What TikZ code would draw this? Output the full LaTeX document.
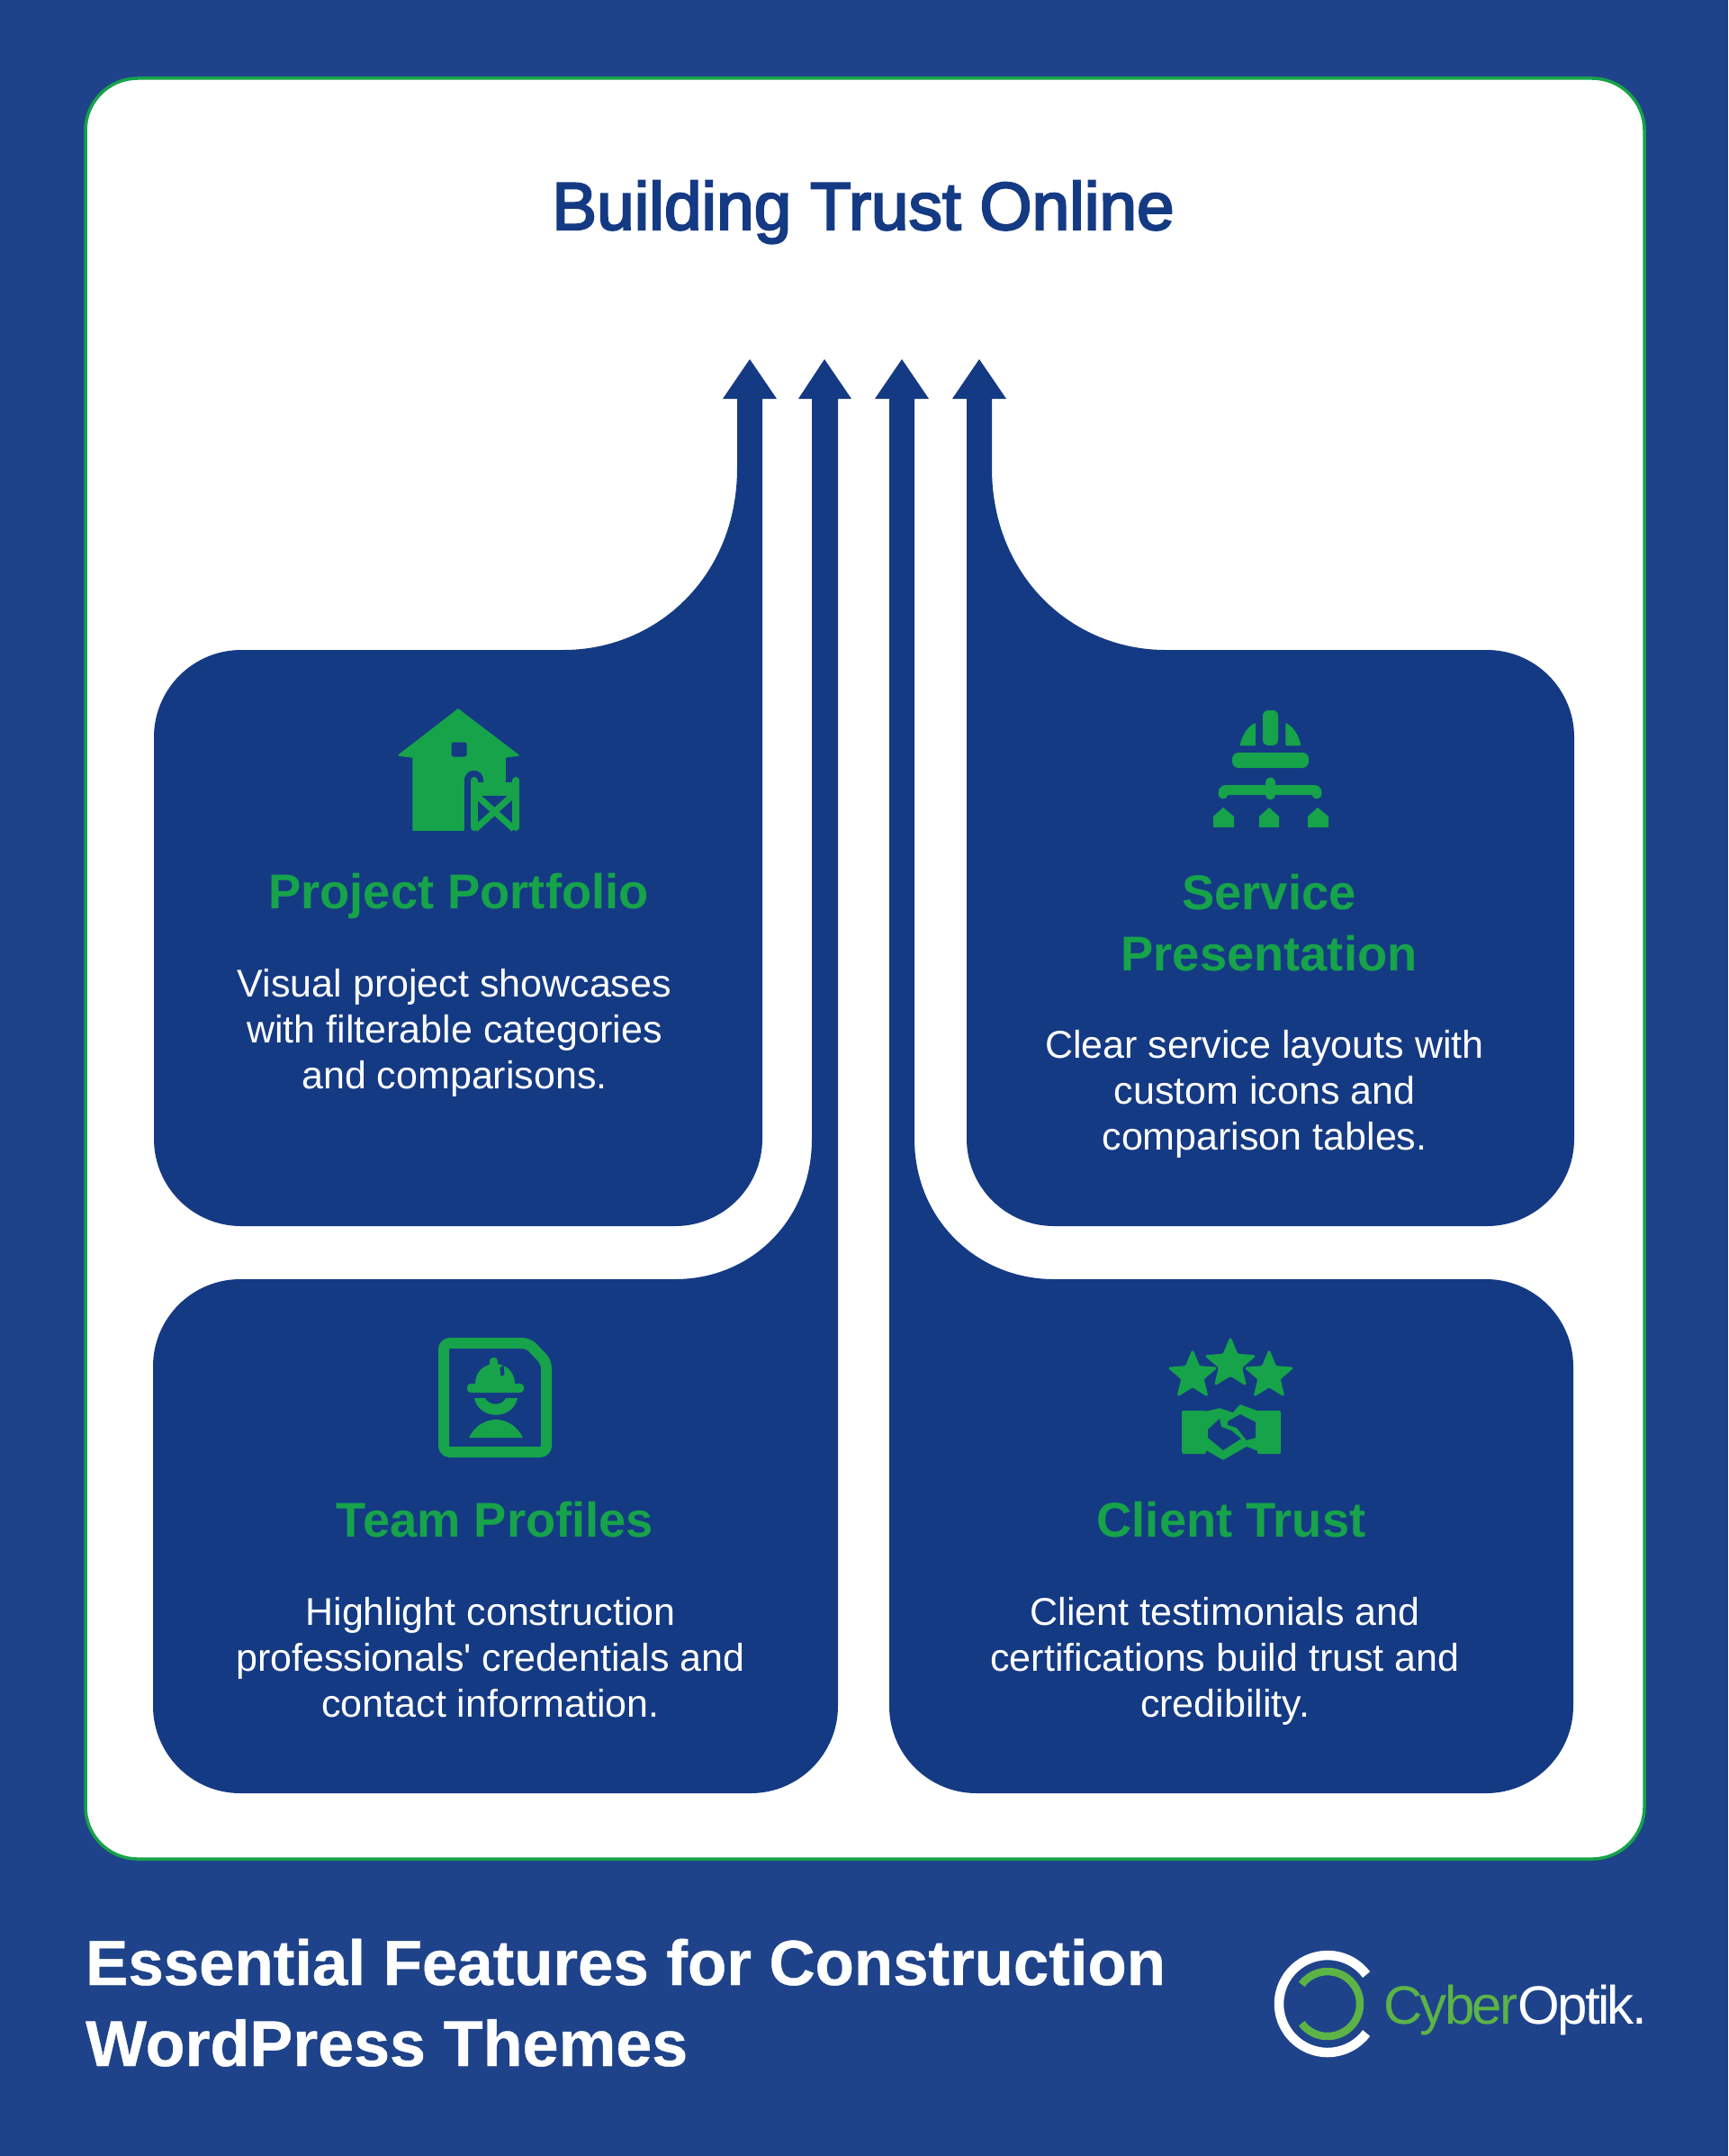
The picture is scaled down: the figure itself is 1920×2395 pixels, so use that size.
\documentclass[tikz,border=0pt]{standalone}
\usepackage{fontspec}
\setmainfont[Ligatures=TeXOff]{Liberation Sans}
\newfontfamily\logofont[LetterSpace=-4.5]{Liberation Sans}
\newfontfamily\titlefont[FakeBold=3]{Liberation Sans}
\newfontfamily\footfont[FakeBold=0.6,BoldFont={Liberation Sans Bold}]{Liberation Sans Bold}
\definecolor{pagebg}{HTML}{1F438A}
\definecolor{cardblue}{HTML}{153A84}
\definecolor{leaf}{HTML}{16A34A}
\definecolor{logogreen}{HTML}{5CB446}
\tikzset{
  x=1pt,y=-1pt,
  card/.style={fill=cardblue},
  icon/.style={fill=leaf,draw=leaf,line width=1.5pt,line join=round},
  cut/.style={fill=cardblue,draw=cardblue,line width=1pt,line join=round},
  heading/.style={inner sep=0pt,text=leaf,align=center,font=\fontsize{54.3}{68}\selectfont\bfseries},
  bodytext/.style={inner sep=0pt,text=white,align=center,font=\fontsize{43}{51}\selectfont},
  footer/.style={inner sep=0pt,text=white,font=\footfont}
}
\begin{document}
\begin{tikzpicture}
\useasboundingbox (0,0) rectangle (1920,2395);
\fill[pagebg] (0,0) rectangle (1920,2395);
\draw[leaf,line width=3.5pt,fill=white,rounded corners=58pt] (95,87) rectangle (1827,2065);

% top-left card with arrow
\fill[card] (626,722) .. controls (730,722) and (819,640) .. (819,520) -- (819,443) -- (803,443) -- (833,399) -- (863,443) -- (847,443) -- (847,1000)
  [rounded corners=97pt] -- (847,1362) -- (171,1362) -- (171,722) -- (400,722) [sharp corners] -- cycle;
% top-right card with arrow
\fill[card] (1295,722) .. controls (1191,722) and (1102,640) .. (1102,520) -- (1102,443) -- (1118,443) -- (1088,399) -- (1058,443) -- (1074,443) -- (1074,1000)
  [rounded corners=97pt] -- (1074,1362) -- (1749,1362) -- (1749,722) -- (1500,722) [sharp corners] -- cycle;
% bottom-left card with arrow
\fill[card] (750,1421) .. controls (835,1421) and (902,1355) .. (902,1265) -- (902,443) -- (887,443) -- (916,399) -- (946,443) -- (931,443) -- (931,1700)
  [rounded corners=97pt] -- (931,1992) -- (170,1992) -- (170,1421) -- (500,1421) [sharp corners] -- cycle;
% bottom-right card with arrow
\fill[card] (1171,1421) .. controls (1086,1421) and (1016,1355) .. (1016,1265) -- (1016,443) -- (1032,443) -- (1002,399) -- (972,443) -- (988,443) -- (988,1700)
  [rounded corners=97pt] -- (988,1992) -- (1748,1992) -- (1748,1421) -- (1400,1421) [sharp corners] -- cycle;

% title
\node[inner sep=0pt,text=cardblue,anchor=base,font=\fontsize{74.8}{80}\titlefont] (title) at (959,255) {Building Trust Online};

% house icon
\path[icon] (509,788) -- (576,839) -- (561,841) -- (561,868) -- (538,868) .. controls (538,859) and (533,855) .. (526,855) .. controls (520,855) and (515,860) .. (515,868) -- (515,922) -- (459,922) -- (459,841) -- (443,839) -- cycle;
\path[cut,rounded corners=2pt] (502,825) rectangle (518,840);
\draw[leaf,line width=8pt,line cap=round] (526.500,867) -- (526.500,919);
\draw[leaf,line width=8pt,line cap=round] (573,867) -- (573,919);
\fill[leaf] (526,869) rectangle (573,884);
\draw[leaf,line width=7pt] (530,884) -- (571,921);
\draw[leaf,line width=7pt] (569,884) -- (528,921);

% service icon
\fill[leaf,rounded corners=6pt] (1403,789) rectangle (1420,828);
\path[icon] (1378.500,827.500) .. controls (1381,816) and (1387,808) .. (1394,804) -- (1394,827.500) -- cycle;
\path[icon] (1444.500,827.500) .. controls (1442,816) and (1436,808) .. (1429,804) -- (1429,827.500) -- cycle;
\fill[leaf,rounded corners=7pt] (1369,836) rectangle (1454,853);
\draw[leaf,line width=11pt,line cap=round] (1359,882) .. controls (1359,877) and (1362,877.500) .. (1366,877.500) -- (1457,877.500) .. controls (1461,877.500) and (1463,877) .. (1463,882);
\draw[leaf,line width=11pt,line cap=round] (1411.500,869) -- (1411.500,883);
\fill[leaf] (1359,897) -- (1371,907) -- (1371,919) -- (1348,919) -- (1348,907) -- cycle;
\fill[leaf] (1410,897) -- (1421,907) -- (1421,919) -- (1399,919) -- (1399,907) -- cycle;
\fill[leaf] (1464,897) -- (1476,907) -- (1476,919) -- (1453,919) -- (1453,907) -- cycle;

% team icon
\draw[leaf,line width=12pt,line join=round,rounded corners=7pt] (493,1492) -- (587,1492) -- (607,1513) -- (607,1613) -- (493,1613) -- cycle;
\fill[leaf] (528,1537) .. controls (528,1524) and (538,1515) .. (550,1515) .. controls (562,1515) and (572,1524) .. (572,1537) -- cycle;
\fill[leaf,rounded corners=4pt] (544,1508) rectangle (553,1528);
\path[cut] (556,1520) -- (559,1517) -- (560,1527) -- (557,1528) -- cycle;
\fill[leaf,rounded corners=4pt] (519,1537) rectangle (582,1547);
\fill[leaf] (527,1553) -- (539,1553) .. controls (543,1562) and (558,1562) .. (562,1553) -- (575,1553) .. controls (570,1578) and (532,1578) .. (527,1553) -- cycle;
\fill[leaf] (521,1597) .. controls (527,1585) and (538,1577) .. (551,1577) .. controls (564,1577) and (575,1585) .. (581,1597) -- cycle;

% client icon
\foreach \cx/\cy/\R/\Q in {1367/1515/29/13, 1325/1528/28/12.500, 1410/1528/28/12.500} {
  \path[icon,shift={(\cx,\cy)},rounded corners=1.5pt] (270:\R) -- (306:\Q) -- (342:\R) -- (18:\Q) -- (54:\R) -- (90:\Q) -- (126:\R) -- (162:\Q) -- (198:\R) -- (234:\Q) -- cycle;
}
\fill[leaf,rounded corners=2pt] (1313,1567) rectangle (1340,1615);
\fill[leaf,rounded corners=2pt] (1397,1567) rectangle (1423,1615);
\path[icon] (1338,1569) -- (1355,1565) -- (1370,1570) -- (1378,1561) -- (1400,1569) -- (1400,1612) -- (1385,1606) -- (1359,1621) -- (1340,1610) -- cycle;
\fill[cardblue] (1342,1588) -- (1355,1576) -- (1357,1585) -- (1368,1589) -- (1379,1598) -- (1359,1611) -- (1342,1597) -- cycle;
\fill[cardblue] (1364,1579) -- (1378,1571) -- (1395,1580) -- (1395,1597) -- (1385,1600) -- (1374,1586) -- (1364,1583) -- cycle;

% card texts
\node[heading,anchor=base] (h1) at (509.500,1009) {Project Portfolio};
\node[bodytext] (b1) at (505,1147.500) {Visual project showcases\\with filterable categories\\and comparisons.};
\node[heading,anchor=center] (h2) at (1410,1025) {Service\\Presentation};
\node[bodytext] (b2) at (1405,1215.500) {Clear service layouts with\\custom icons and\\comparison tables.};
\node[heading,anchor=base] (h3) at (550,1707) {Team Profiles};
\node[bodytext] (b3) at (545,1841) {Highlight construction\\professionals' credentials and\\contact information.};
\node[heading,anchor=base] (h4) at (1368,1707) {Client Trust};
\node[bodytext] (b4) at (1361,1845.500) {Client testimonials and\\certifications build trust and\\credibility.};

% footer
\node[footer,anchor=base west] (f1) at (95,2205) {\fontsize{70.8}{90}\selectfont Essential Features for Construction};
\node[footer,anchor=base west] (f2) at (95,2295) {\fontsize{71.8}{90}\selectfont WordPress Themes};

% logo
\coordinate (logoc) at (1475,2226);
\draw[white,line width=10.500pt] (logoc) ++(37:54pt) arc[start angle=37,end angle=323,radius=54pt];
\draw[logogreen,line width=8.500pt] (logoc) ++(-143:36pt) arc[start angle=-143,end angle=143,radius=36pt];
\node[inner sep=0pt,anchor=base west,font=\fontsize{60}{60}\logofont] (logotext) at (1537,2248) {\textcolor{logogreen}{Cyber}\textcolor{white}{Optik.}};
\end{tikzpicture}
\end{document}
